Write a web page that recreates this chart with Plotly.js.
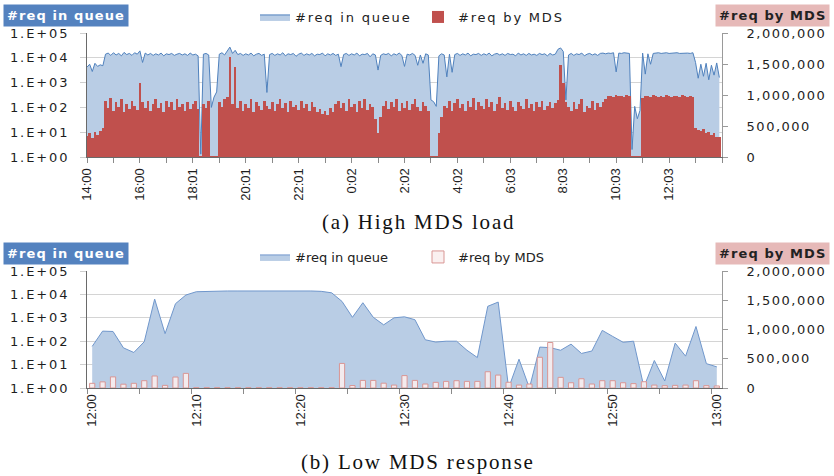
<!DOCTYPE html>
<html><head><meta charset="utf-8">
<script src="https://cdn.plot.ly/plotly-3.0.1.min.js"></script>
<style>
html,body{margin:0;padding:0;background:#fff;}
#chart{width:834px;height:476px;}
.ytick text,.y3tick text{letter-spacing:1.9px;}
.y2tick text,.y4tick text{letter-spacing:1.5px;}
text.legendtext{letter-spacing:1.8px;}
text.annotation-text[style*="Sans"]{letter-spacing:1.1px;}
text.annotation-text[style*="Serif"]{letter-spacing:1.8px;}
</style></head><body><div id="chart"></div><script>
// ---------- (a) High MDS load: one sample every 6 minutes from 14:00 ----------
const highStepMinutes = 6;
const highQueue = [
4200,5500,2800,6000,4500,5200,4800,14000,15500,12500,
16000,13000,15000,12000,16500,13500,15000,12500,16000,14000,
19000,6500,15500,13000,15000,12500,14500,13000,15500,12000,
14500,13500,15000,12500,14000,15000,13000,14500,12500,15500,
13000,14000,12000,1.3,14000,15000,13000,100,260,420,
14000,16000,13000,20000,27000,15000,20000,13500,15000,12500,
14500,13000,15500,12000,14000,15000,12500,14000,400,13500,
15000,12500,14500,13000,16000,12000,14500,13500,15000,11500,
14000,15500,12500,14500,13000,15000,12000,14000,13500,15500,
12000,14500,13000,15000,12500,14000,4400,13500,15000,12500,
14500,13000,15500,12000,14000,13500,15000,11000,14500,13000,
3200,12500,14500,13500,15000,12000,14500,13000,15500,12500,
4500,14000,13000,15000,12500,5000,13000,6000,14500,13000,
200,170,110,12000,14500,13000,1700,14000,2600,13500,
15000,12500,14500,13000,15500,12000,14000,13500,15000,12500,
14500,13000,15500,12000,14000,15000,13000,14500,12500,15000,
13500,14000,12000,15500,13000,14500,12500,15000,13000,14000,
12500,15000,13500,14500,12000,15000,13000,14000,22000,25000,
18000,200,13000,15000,12500,14500,13500,15500,12000,14000,
15000,13000,14500,12500,15000,15500,14500,15500,15000,16000,
2700,15500,15000,16000,15500,15000,2,110,35,75,
15500,2200,14500,5500,15000,15500,16000,15000,15500,16000,
15000,15500,15500,16000,15000,15500,16000,15500,15000,16000,
6500,1500,5500,1800,6000,1300,5000,2000,6200,1600
];
const highMDS = [
340000,380000,300000,400000,350000,420000,460000,900000,790000,950000,
740000,880000,810000,930000,720000,850000,780000,900000,820000,760000,
1190000,880000,790000,910000,740000,850000,930000,790000,870000,730000,
910000,800000,880000,760000,930000,810000,860000,740000,890000,780000,
850000,910000,770000,10000,850000,790000,910000,15000,15000,15000,
880000,810000,930000,960000,1610000,850000,1450000,790000,910000,740000,
860000,790000,930000,720000,880000,820000,760000,910000,830000,770000,
890000,740000,850000,930000,790000,870000,730000,900000,810000,840000,
760000,910000,790000,860000,740000,880000,810000,720000,770000,690000,
750000,680000,790000,730000,850000,910000,790000,870000,740000,930000,
810000,850000,720000,900000,790000,930000,760000,860000,810000,620000,
390000,640000,830000,910000,770000,890000,810000,930000,740000,870000,
790000,910000,760000,850000,930000,810000,740000,890000,830000,750000,
12000,12000,12000,380000,640000,830000,790000,910000,740000,870000,
930000,790000,850000,740000,910000,810000,950000,760000,880000,830000,
770000,930000,810000,890000,740000,850000,960000,790000,870000,760000,
910000,810000,740000,890000,830000,770000,930000,790000,850000,740000,
880000,810000,910000,760000,830000,890000,790000,870000,920000,1480000,
1200000,880000,810000,740000,890000,770000,850000,930000,720000,830000,
790000,910000,760000,870000,810000,890000,930000,980000,990000,970000,
1000000,985000,990000,975000,995000,980000,10000,10000,10000,10000,
950000,980000,990000,970000,1000000,985000,960000,990000,975000,1000000,
980000,965000,990000,985000,970000,995000,980000,960000,990000,975000,
470000,440000,420000,450000,380000,400000,350000,380000,320000,330000
];
const highTickText = ['14:00','16:00','18:01','20:01','22:01','0:02','2:02','4:02','6:03','8:03','10:03','12:03'];
const highTickStepMinutes = 120;

// ---------- (b) Low MDS response: one sample per minute, 12:00 - 13:00 ----------
const lowQueue = [
60,270,260,52,33,95,6300,210,4000,9400,
13000,13500,13800,14000,14000,14100,14100,14100,14100,14000,
14000,14000,13500,11700,5000,1050,4400,1050,500,1000,
1100,830,115,92,100,100,41,20,3100,4700,
1,17,1,56,53,41,75,30,38,290,
160,90,100,1.1,15,2,83,23,425,11,
8
];
const lowMDS = [
80000,105000,190000,65000,80000,125000,205000,45000,187000,250000,
6000,6000,6000,6000,6000,6000,6000,6000,6000,6000,
6000,6000,6000,6000,420000,42000,130000,130000,82000,50000,
212000,130000,68000,97000,113000,125000,113000,113000,278000,221000,
98000,50000,68000,525000,778000,182000,90000,158000,68000,125000,
125000,90000,75000,107000,50000,40000,45000,50000,125000,40000,
35000
];
const lowTickText = ['12:00','12:10','12:20','12:30','12:40','12:50','13:00'];
const lowTickStep = 10;

const logTickVals = [1,10,100,1000,10000,100000];
const logTickText = ['1.E+00','1.E+01','1.E+02','1.E+03','1.E+04','1.E+05'];
const mdsTickVals = [0,500000,1000000,1500000,2000000];
const mdsTickText = ['0','500,000','1,000,000','1,500,000','2,000,000'];

const highX = highQueue.map((_, k) => k * highStepMinutes);
const lowX = lowQueue.map((_, i) => i);

const W = 834, H = 476;
const px = v => v / W, py = v => 1 - v / H;
const tickFont = {family: 'DejaVu Sans', size: 13, color: '#1e1e1e'};
const xTickFont = {family: 'Liberation Sans, Arial', size: 13, color: '#1e1e1e'};
const blueFill = '#b9cde5', blueLine = '#4f81bd';

const traces = [
  {type:'scatter', mode:'lines', x: highX, y: highQueue, xaxis:'x', yaxis:'y',
   fill:'tozeroy', fillcolor: blueFill, line:{color: blueLine, width:1},
   name:'#req in queue', legend:'legend', hoverinfo:'skip'},
  {type:'bar', x: highX, y: highMDS, xaxis:'x', yaxis:'y2',
   marker:{color:'#c0504d', line:{width:0}},
   name:'#req by MDS', legend:'legend', hoverinfo:'skip'},
  {type:'scatter', mode:'lines', x: lowX, y: lowQueue, xaxis:'x2', yaxis:'y3',
   fill:'tozeroy', fillcolor: blueFill, line:{color:'#7097cc', width:1},
   name:'#req in queue', legend:'legend2', hoverinfo:'skip'},
  {type:'bar', x: lowX, y: lowMDS, xaxis:'x2', yaxis:'y4', width:0.5,
   marker:{color:'rgba(250,238,238,0.9)', line:{color:'#d99694', width:1}},
   name:'#req by MDS', legend:'legend2', hoverinfo:'skip'}
];

const xDomain = [px(87), px(722)];
function leftAxis(domain, anchor){
  return {domain, anchor, type:'log', range:[0,5], tickmode:'array',
    tickvals: logTickVals, ticktext: logTickText, tickfont: tickFont,
    showgrid:true, gridcolor:'#d4d4d4', gridwidth:1, zeroline:false,
    showline:true, linecolor:'#6a6a6a', linewidth:1,
    ticks:'outside', ticklen:6, tickcolor:'#cfcfcf', ticklabelstandoff:8};
}
function rightAxis(overlay, anchor){
  return {overlaying: overlay, side:'right', anchor, range:[0,2000000],
    tickmode:'array', tickvals: mdsTickVals, ticktext: mdsTickText, tickfont: tickFont,
    showgrid:false, zeroline:false, showline:true, linecolor:'#9a9a9a', linewidth:1,
    ticks:'outside', ticklen:5, tickcolor:'#9a9a9a', ticklabelstandoff:16};
}

const layout = {
  width: W, height: H, margin:{l:0,r:0,t:0,b:0},
  paper_bgcolor:'#fff', plot_bgcolor:'#fff', bargap:0, barmode:'overlay',
  hovermode:false,
  xaxis:{domain:xDomain, anchor:'y', range:[0,1440], tickmode:'array',
    tickvals: highTickText.map((_, j) => j * highTickStepMinutes), ticktext: highTickText,
    tickangle:-90, tickfont:xTickFont, ticks:'outside', ticklen:5, tickcolor:'#8a8a8a',
    showline:true, linecolor:'#6a6a6a', linewidth:1, showgrid:false, zeroline:false,
    minor:{tick0:0, dtick:60, ticks:'outside', ticklen:5, tickcolor:'#8a8a8a', showgrid:false}},
  yaxis: leftAxis([py(157), py(33)], 'x'),
  yaxis2: rightAxis('y', 'x'),
  xaxis2:{domain:xDomain, anchor:'y3', range:[-0.5,60.5], tickmode:'array',
    tickvals: lowTickText.map((_, j) => j * lowTickStep), ticktext: lowTickText,
    tickangle:-90, tickfont:xTickFont, ticks:'', 
    showline:true, linecolor:'#6a6a6a', linewidth:1, showgrid:false, zeroline:false,
    minor:{tick0:-0.5, dtick:5, ticks:'outside', ticklen:5, tickcolor:'#8a8a8a', showgrid:false}},
  yaxis3: leftAxis([py(388), py(271)], 'x2'),
  yaxis4: rightAxis('y3', 'x2'),
  legend:{orientation:'h', x:px(255), xanchor:'left', y:py(17), yanchor:'middle',
    entrywidth:118, font:{family:'DejaVu Sans', size:13, color:'#222'}, bgcolor:'rgba(0,0,0,0)'},
  legend2:{orientation:'h', x:px(255), xanchor:'left', y:py(257), yanchor:'middle',
    entrywidth:118, font:{family:'DejaVu Sans', size:13, color:'#222'}, bgcolor:'rgba(0,0,0,0)'},
  annotations:[
    {text:'#req in queue', xref:'paper', yref:'paper', x:px(3), xanchor:'left', y:py(16), yanchor:'middle',
     showarrow:false, bgcolor:'#5482bf', borderpad:3, font:{family:'DejaVu Sans', size:13, color:'#fff', weight:'bold'}},
    {text:'#req by MDS', xref:'paper', yref:'paper', x:px(715), xanchor:'left', y:py(16), yanchor:'middle',
     showarrow:false, bgcolor:'#e6b9b8', borderpad:3, font:{family:'DejaVu Sans', size:13, color:'#222', weight:'bold'}},
    {text:'#req in queue', xref:'paper', yref:'paper', x:px(3), xanchor:'left', y:py(253.5), yanchor:'middle',
     showarrow:false, bgcolor:'#5482bf', borderpad:3, font:{family:'DejaVu Sans', size:13, color:'#fff', weight:'bold'}},
    {text:'#req by MDS', xref:'paper', yref:'paper', x:px(715), xanchor:'left', y:py(253.5), yanchor:'middle',
     showarrow:false, bgcolor:'#e6b9b8', borderpad:3, font:{family:'DejaVu Sans', size:13, color:'#222', weight:'bold'}},
    {text:'(a) High MDS load', xref:'paper', yref:'paper', x:px(418), xanchor:'center', y:py(222), yanchor:'middle',
     showarrow:false, font:{family:'Liberation Serif', size:21, color:'#111'}},
    {text:'(b) Low MDS response', xref:'paper', yref:'paper', x:px(418), xanchor:'center', y:py(462), yanchor:'middle',
     showarrow:false, font:{family:'Liberation Serif', size:21, color:'#111'}}
  ]
};

Plotly.newPlot('chart', traces, layout, {displayModeBar:false, staticPlot:true});
</script></body></html>
